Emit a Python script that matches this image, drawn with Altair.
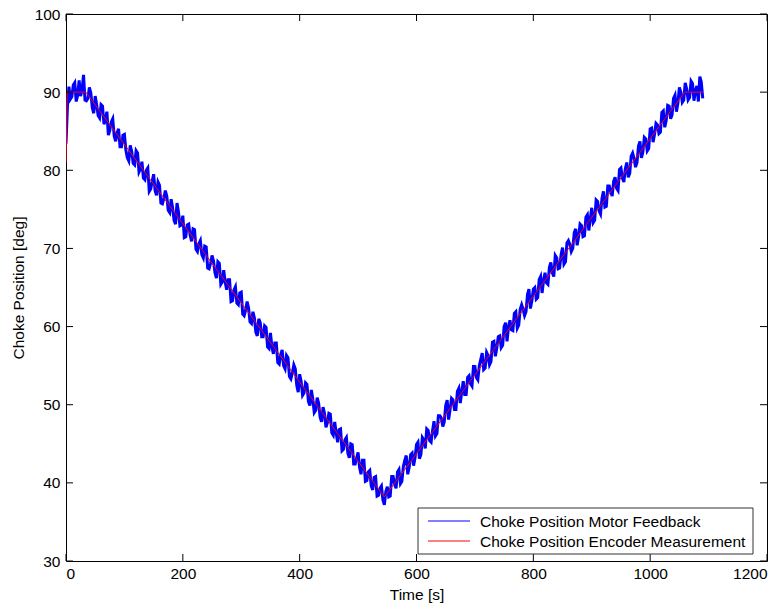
import altair as alt
import pandas as pd

# Motor feedback, samples on the 5 s grid
feedback_time_a = list(range(0, 1095, 5))
feedback_deg_a = [
    83.4, 90.7, 89.4, 91.2, 89.6, 89.5, 92.2, 88.9, 90.6, 88.0,
    89.5, 87.0, 88.4, 85.9, 87.5, 85.1, 86.6, 83.7, 85.3, 83.0,
    84.6, 81.6, 83.2, 80.9, 82.5, 79.8, 81.1, 78.8, 80.3, 77.6,
    79.5, 76.8, 78.1, 75.7, 77.4, 74.9, 76.3, 73.6, 75.8, 72.9,
    74.2, 71.5, 73.1, 70.9, 72.4, 69.6, 71.0, 68.8, 70.2, 67.4,
    69.1, 66.9, 68.3, 65.4, 67.2, 64.7, 66.0, 63.3, 65.1, 62.8,
    64.4, 61.4, 63.2, 60.6, 61.9, 59.3, 61.0, 58.7, 60.1, 57.4,
    59.2, 56.5, 57.9, 55.2, 57.0, 54.6, 56.0, 53.3, 55.1, 52.5,
    53.9, 51.2, 52.8, 50.4, 51.9, 49.0, 50.9, 48.4, 49.7, 47.1,
    48.9, 46.4, 47.8, 45.2, 46.9, 44.3, 45.8, 43.2, 44.9, 42.4,
    43.9, 41.1, 42.9, 40.3, 41.6, 39.1, 40.8, 38.4, 39.6, 37.2,
    39.5, 38.3, 40.8, 39.3, 41.7, 40.2, 42.9, 41.1, 43.6, 42.2,
    44.9, 43.1, 45.8, 44.4, 46.7, 45.2, 47.9, 46.3, 48.6, 47.2,
    49.9, 48.1, 50.8, 49.4, 51.7, 50.2, 53.0, 51.3, 53.7, 52.4,
    54.9, 53.2, 55.8, 54.5, 56.7, 55.1, 58.0, 56.2, 58.7, 57.3,
    60.0, 58.1, 60.8, 59.5, 61.9, 60.2, 62.8, 61.4, 64.1, 62.3,
    64.8, 63.5, 66.0, 64.3, 66.9, 65.4, 68.2, 66.4, 68.8, 67.5,
    70.1, 68.3, 71.0, 69.6, 72.0, 70.4, 73.1, 71.5, 74.0, 72.3,
    75.2, 73.6, 76.0, 74.4, 77.3, 75.4, 78.0, 76.7, 79.1, 77.4,
    80.3, 78.5, 81.0, 79.6, 82.2, 80.4, 83.1, 81.6, 84.2, 82.5,
    85.3, 83.6, 86.0, 84.7, 87.4, 85.5, 88.3, 86.6, 89.2, 87.5,
    90.6, 88.7, 91.2, 89.0, 91.4, 88.9, 90.8, 92.0, 89.2,
]

# Motor feedback, samples in between (2.5 s + 5 s grid)
feedback_time_b = [2.5 + 5 * i for i in range(218)]
feedback_deg_b = [
    88.2, 89.1, 90.9, 88.8, 91.5, 90.3, 89.0,
    89.2, 89.9, 87.3, 88.4, 86.7, 88.2, 86.4, 84.5, 86.2, 84.4,
    84.8, 83.0, 84.5, 82.6, 81.2, 82.4, 80.7, 82.2, 80.2, 79.0,
    80.0, 77.3, 78.6, 77.4, 78.5, 75.8, 76.4, 76.7, 74.6, 75.2,
    73.1, 74.7, 73.0, 71.4, 73.0, 71.7, 72.5, 69.9, 70.6, 69.2,
    70.3, 67.5, 68.1, 68.4, 66.2, 68.1, 65.7, 65.7, 66.0, 63.2,
    64.7, 63.0, 64.3, 61.6, 62.1, 62.4, 60.4, 61.1, 58.8, 60.5,
    58.7, 59.9, 57.2, 57.4, 57.9, 55.4, 56.4, 55.0, 56.3, 53.6,
    54.1, 54.6, 51.6, 53.0, 51.5, 52.6, 49.9, 50.7, 49.3, 50.2,
    47.8, 48.9, 47.7, 48.8, 46.1, 46.4, 46.8, 44.1, 45.5, 43.8,
    45.0, 42.4, 43.2, 42.0, 42.9, 40.2, 41.4, 39.6, 40.7, 38.3,
    39.3, 37.8,
    38.9, 38.2, 40.8, 39.8, 41.4, 39.9, 42.1, 43.5, 42.0, 43.8,
    43.2, 45.2, 43.6, 45.5, 46.9, 45.4, 46.7, 46.0, 48.6, 48.3,
    47.8, 50.6, 49.4, 50.6, 49.4, 52.1, 51.7, 51.3, 53.5, 52.7,
    54.9, 53.5, 55.0, 56.6, 54.7, 56.3, 55.5, 58.1, 57.3, 58.8,
    57.6, 60.5, 59.9, 59.6, 61.7, 59.8, 62.2, 62.2, 61.9, 64.8,
    63.3, 65.0, 63.7, 66.4, 65.9, 65.6, 67.6, 66.9, 69.1, 67.4,
    69.2, 68.0, 70.7, 70.5, 70.0, 72.5, 71.5, 72.9, 71.6, 74.3,
    73.8, 73.3, 76.2, 74.8, 76.4, 75.3, 78.0, 77.2, 78.6, 77.7,
    80.1, 79.0, 80.2, 79.1, 81.8, 81.5, 81.0, 83.7, 82.3, 84.0,
    82.8, 85.4, 84.6, 85.8, 84.9, 87.6, 86.4, 88.2, 87.1, 89.6,
    88.6, 90.0, 89.0,
    90.4, 89.3, 91.1, 90.2, 88.8, 91.3,
]

# Encoder measurement (piecewise linear profile)
encoder_time = [0, 2, 34, 545, 1059, 1090]
encoder_deg = [81.0, 90.0, 90.0, 38.2, 90.0, 90.0]

x_ticks = [0, 200, 400, 600, 800, 1000, 1200]
y_ticks = [30, 40, 50, 60, 70, 80, 90, 100]

series_names = ["Choke Position Motor Feedback", "Choke Position Encoder Measurement"]
series_colors = ["#0000ff", "#ff0000"]

W, H = 701, 547
TICK = 7
FONT = "Liberation Sans"
FS = 15.5

feedback = pd.DataFrame({
    "t": feedback_time_a + feedback_time_b,
    "v": feedback_deg_a + feedback_deg_b,
}).sort_values("t")
feedback["s"] = series_names[0]
encoder = pd.DataFrame({"t": encoder_time, "v": encoder_deg, "s": series_names[1]})

x_scale = alt.Scale(domain=[0, 1200], nice=False, zero=False)
y_scale = alt.Scale(domain=[30, 100], nice=False, zero=False)
color = alt.Color("s:N", scale=alt.Scale(domain=series_names, range=series_colors), legend=None)

x_axis = alt.Axis(
    values=x_ticks, format="d", ticks=False, domain=False, grid=False,
    labelFontSize=FS, labelFont=FONT, labelColor="black", labelPadding=5,
    title="Time [s]", titleFontSize=FS, titleFont=FONT, titleFontWeight="normal",
    titleColor="black", titlePadding=6,
)
y_axis = alt.Axis(
    values=y_ticks, ticks=False, domain=False, grid=False,
    labelFontSize=FS, labelFont=FONT, labelColor="black", labelPadding=6,
    title="Choke Position [deg]", titleFontSize=FS, titleFont=FONT,
    titleFontWeight="normal", titleColor="black", titlePadding=8,
)

# dense sampling drawn with a heavier stroke so the noise reads as a band
feedback_line = alt.Chart(feedback).mark_line(strokeWidth=3, clip=True).encode(
    x=alt.X("t:Q", scale=x_scale, axis=x_axis),
    y=alt.Y("v:Q", scale=y_scale, axis=y_axis),
    color=color,
    order="t:Q",
)
encoder_line = alt.Chart(encoder).mark_line(strokeWidth=1, clip=True).encode(
    x=alt.X("t:Q", scale=x_scale),
    y=alt.Y("v:Q", scale=y_scale),
    color=color,
)

# inward ticks on all four sides of the box
xt = pd.DataFrame({"t": x_ticks})
yt = pd.DataFrame({"v": y_ticks})
tick_style = dict(color="black", strokeWidth=1)
x_ticks_bottom = alt.Chart(xt).mark_rule(**tick_style).encode(
    x=alt.X("t:Q", scale=x_scale), y=alt.value(H), y2=alt.value(H - TICK))
x_ticks_top = alt.Chart(xt).mark_rule(**tick_style).encode(
    x=alt.X("t:Q", scale=x_scale), y=alt.value(0), y2=alt.value(TICK))
y_ticks_left = alt.Chart(yt).mark_rule(**tick_style).encode(
    y=alt.Y("v:Q", scale=y_scale), x=alt.value(0), x2=alt.value(TICK))
y_ticks_right = alt.Chart(yt).mark_rule(**tick_style).encode(
    y=alt.Y("v:Q", scale=y_scale), x=alt.value(W), x2=alt.value(W - TICK))

# legend box in the lower right corner
one = pd.DataFrame({"k": [0]})
legend_box = alt.Chart(one).mark_rect(fill="white", stroke="#333333", strokeWidth=1).encode(
    x=alt.value(352), x2=alt.value(687), y=alt.value(494), y2=alt.value(540))
legend_parts = [legend_box]
for i, (name, col) in enumerate(zip(series_names, series_colors)):
    row_y = 507 + 20 * i
    legend_parts.append(
        alt.Chart(one).mark_rule(color=col, strokeWidth=1).encode(
            x=alt.value(362), x2=alt.value(404), y=alt.value(row_y)))
    legend_parts.append(
        alt.Chart(one).mark_text(
            text=name, align="left", baseline="middle", font=FONT,
            fontSize=FS, color="black").encode(
            x=alt.value(414), y=alt.value(row_y + 1)))

chart = alt.layer(
    feedback_line, encoder_line,
    x_ticks_bottom, x_ticks_top, y_ticks_left, y_ticks_right,
    *legend_parts,
).properties(
    width=W,
    height=H,
    autosize=alt.AutoSizeParams(type="none"),
    padding={"left": 66, "top": 14, "right": 14, "bottom": 49},
    background="white",
).configure_view(stroke="black", strokeWidth=1)

chart.save("out.html", embed_options={"renderer": "svg", "actions": False})
